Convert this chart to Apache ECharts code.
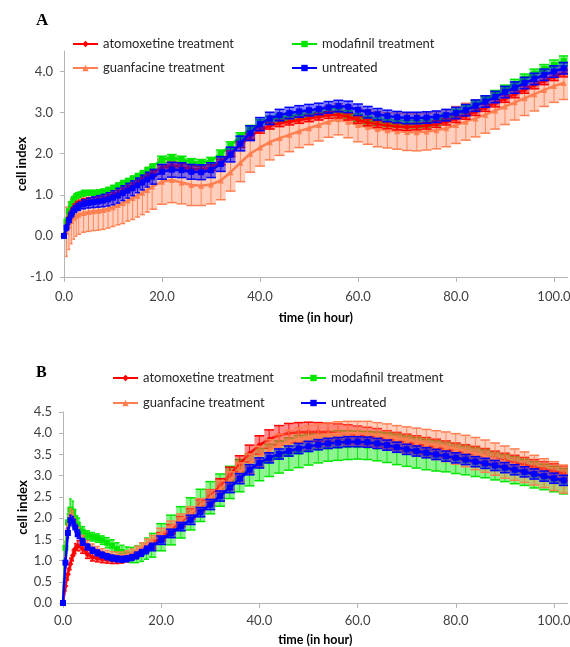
<!DOCTYPE html>
<html><head><meta charset="utf-8">
<script src="https://cdn.jsdelivr.net/npm/echarts@6/dist/echarts.min.js"></script>
<style>html,body{margin:0;padding:0;background:#fff}#c{width:570px;height:647px}</style>
</head><body><div id="c"></div>
<script>
// time points (hours) shared by both panels
const hours = [0,0.5,1,1.5,2,2.5,3,4,5,6,7,8,9,10,11,12,13,14,15,16,17,18,20,22,24,26,28,30,32,34,36,38,40,42,44,46,48,50,52,54,56,58,60,62,64,66,68,70,72,74,76,78,80,82,84,86,88,90,92,94,96,98,100,102];

const seriesNames = ['atomoxetine treatment','modafinil treatment','guanfacine treatment','untreated'];

// ---------- Panel A ----------
const aAto = [0,0.25,0.45,0.6,0.7,0.77,0.8,
  0.84,0.86,0.87,0.88,0.9,0.94,0.99,1.04,1.1,1.16,1.22,1.29,1.36,1.44,1.52,
  1.66,1.72,1.68,1.63,1.62,1.66,1.8,2.0,2.22,2.42,
  2.58,2.68,2.74,2.78,2.82,2.86,2.9,2.94,2.95,2.9,
  2.82,2.76,2.72,2.69,2.66,2.65,2.66,2.68,2.72,2.78,
  2.85,2.93,3.02,3.12,3.23,3.34,3.45,3.56,3.67,3.77,
  3.87,3.96];
const aAtoErr = [0,0.1,0.1,0.09,0.08,0.07,0.07,
  0.07,0.07,0.07,0.07,0.07,0.07,0.07,0.07,0.07,0.07,0.07,0.07,0.07,0.07,0.07,
  0.07,0.07,0.07,0.07,0.07,0.07,0.07,0.07,0.07,0.07,
  0.08,0.08,0.08,0.08,0.08,0.08,0.08,0.08,0.08,0.08,
  0.08,0.08,0.08,0.08,0.08,0.08,0.08,0.08,0.08,0.08,
  0.09,0.09,0.09,0.09,0.09,0.09,0.09,0.09,0.09,0.09,
  0.09,0.09];
const aMod = [0,0.35,0.6,0.78,0.9,0.97,1.0,
  1.04,1.05,1.05,1.06,1.08,1.12,1.17,1.22,1.28,1.33,1.39,1.45,1.52,1.6,1.68,
  1.86,1.9,1.86,1.8,1.78,1.83,2.0,2.2,2.42,2.6,
  2.74,2.82,2.87,2.9,2.93,2.96,2.99,3.02,3.02,2.96,
  2.88,2.82,2.78,2.75,2.73,2.72,2.72,2.74,2.79,2.88,
  2.98,3.08,3.19,3.31,3.44,3.57,3.7,3.83,3.95,4.06,
  4.16,4.26];
const aModErr = [0,0.1,0.12,0.1,0.08,0.08,0.07,
  0.07,0.06,0.06,0.06,0.06,0.06,0.06,0.07,0.07,0.07,0.07,0.07,0.07,0.07,0.07,
  0.08,0.08,0.08,0.08,0.08,0.08,0.09,0.09,0.09,0.09,
  0.09,0.09,0.09,0.09,0.09,0.09,0.09,0.09,0.09,0.09,
  0.09,0.09,0.09,0.09,0.09,0.09,0.09,0.09,0.1,0.1,
  0.1,0.1,0.1,0.1,0.1,0.1,0.11,0.11,0.11,0.11,
  0.12,0.12];
const aGua = [0,0.1,0.25,0.36,0.44,0.49,0.52,
  0.56,0.58,0.6,0.61,0.63,0.66,0.7,0.75,0.8,0.86,0.92,0.98,1.05,1.12,1.2,
  1.32,1.36,1.3,1.24,1.22,1.25,1.35,1.55,1.78,2.0,
  2.15,2.28,2.38,2.46,2.55,2.62,2.7,2.78,2.84,2.78,
  2.7,2.65,2.6,2.57,2.55,2.53,2.52,2.54,2.57,2.62,
  2.7,2.78,2.86,2.95,3.05,3.15,3.25,3.35,3.45,3.55,
  3.65,3.72];
const aGuaErr = [0,0.6,0.58,0.55,0.52,0.5,0.48,
  0.47,0.47,0.47,0.47,0.47,0.47,0.47,0.48,0.5,0.5,0.52,0.52,0.53,0.54,0.55,
  0.55,0.55,0.52,0.5,0.48,0.47,0.47,0.46,0.46,0.45,
  0.45,0.43,0.42,0.41,0.4,0.4,0.39,0.38,0.38,0.39,
  0.41,0.42,0.43,0.43,0.44,0.45,0.45,0.45,0.45,0.45,
  0.45,0.45,0.45,0.45,0.45,0.44,0.43,0.42,0.41,0.4,
  0.4,0.4];
const aUnt = [0,0.2,0.38,0.52,0.62,0.68,0.72,
  0.77,0.8,0.82,0.84,0.86,0.89,0.93,0.98,1.04,1.1,1.16,1.23,1.3,1.37,1.44,
  1.56,1.61,1.6,1.56,1.55,1.6,1.75,1.98,2.25,2.5,
  2.72,2.86,2.94,2.99,3.03,3.06,3.09,3.13,3.16,3.14,
  3.07,3.01,2.96,2.92,2.89,2.87,2.87,2.88,2.9,2.94,
  2.99,3.06,3.17,3.27,3.38,3.5,3.61,3.72,3.82,3.92,
  4.0,4.08];
const aUntErr = [0,0.08,0.1,0.1,0.1,0.1,0.1,
  0.11,0.12,0.13,0.14,0.15,0.16,0.17,0.18,0.18,0.18,0.18,0.18,0.18,0.18,0.18,
  0.18,0.18,0.18,0.18,0.18,0.18,0.18,0.18,0.18,0.18,
  0.16,0.15,0.14,0.14,0.14,0.14,0.14,0.14,0.14,0.14,
  0.14,0.14,0.14,0.14,0.14,0.14,0.14,0.14,0.14,0.14,
  0.14,0.14,0.14,0.14,0.14,0.14,0.14,0.14,0.14,0.14,
  0.14,0.14];

// ---------- Panel B ----------
const bAto = [0,0.4,0.68,0.92,1.12,1.28,1.35,
  1.28,1.15,1.08,1.05,1.03,1.02,1.01,1.01,1.02,1.05,1.09,1.15,1.22,1.3,1.38,
  1.56,1.74,1.92,2.1,2.3,2.52,2.76,3.02,3.28,3.52,
  3.72,3.86,3.95,4.0,4.02,4.03,4.03,4.02,4.0,3.98,
  3.96,3.93,3.9,3.86,3.82,3.78,3.74,3.7,3.66,3.62,
  3.58,3.54,3.5,3.45,3.4,3.35,3.3,3.25,3.2,3.15,
  3.1,3.05];
const bAtoErr = [0,0.12,0.14,0.14,0.13,0.12,0.12,
  0.11,0.1,0.09,0.08,0.08,0.08,0.08,0.08,0.08,0.08,0.08,0.08,0.09,0.09,0.1,
  0.1,0.11,0.12,0.12,0.13,0.15,0.17,0.18,0.19,0.2,
  0.22,0.22,0.23,0.23,0.23,0.23,0.22,0.22,0.22,0.22,
  0.21,0.21,0.21,0.2,0.2,0.2,0.2,0.2,0.2,0.2,
  0.19,0.19,0.19,0.19,0.18,0.18,0.18,0.18,0.18,0.18,
  0.18,0.18];
const bMod = [0,1.3,1.9,2.2,2.15,2.0,1.85,
  1.68,1.6,1.56,1.53,1.48,1.42,1.35,1.27,1.2,1.15,1.13,1.15,1.2,1.28,1.36,
  1.55,1.72,1.9,2.1,2.3,2.48,2.66,2.84,3.0,3.14,
  3.26,3.36,3.44,3.51,3.57,3.62,3.66,3.69,3.71,3.72,
  3.72,3.71,3.69,3.66,3.62,3.58,3.54,3.5,3.47,3.44,
  3.4,3.36,3.32,3.28,3.23,3.18,3.13,3.08,3.02,2.97,
  2.92,2.87];
const bModErr = [0,0.15,0.2,0.25,0.25,0.2,0.15,
  0.12,0.1,0.1,0.1,0.1,0.12,0.14,0.15,0.16,0.17,0.18,0.2,0.22,0.25,0.28,
  0.32,0.35,0.37,0.38,0.38,0.38,0.38,0.38,0.38,0.38,
  0.38,0.38,0.38,0.38,0.38,0.37,0.36,0.35,0.35,0.34,
  0.33,0.33,0.34,0.35,0.36,0.36,0.36,0.36,0.36,0.35,
  0.35,0.34,0.34,0.33,0.33,0.32,0.32,0.31,0.31,0.3,
  0.3,0.3];
const bGua = [0,1.0,1.8,2.1,2.05,1.85,1.68,
  1.5,1.38,1.3,1.25,1.2,1.16,1.13,1.12,1.12,1.14,1.18,1.24,1.32,1.4,1.48,
  1.64,1.8,1.96,2.12,2.3,2.48,2.68,2.88,3.08,3.28,
  3.45,3.6,3.72,3.8,3.86,3.9,3.94,3.97,3.99,4.0,
  4.0,3.99,3.96,3.92,3.88,3.84,3.8,3.76,3.72,3.68,
  3.63,3.58,3.52,3.46,3.39,3.32,3.26,3.2,3.13,3.06,
  2.99,2.92];
const bGuaErr = [0,0.1,0.12,0.12,0.12,0.1,0.1,
  0.09,0.09,0.09,0.08,0.08,0.08,0.08,0.08,0.08,0.09,0.09,0.1,0.1,0.11,0.11,
  0.12,0.13,0.14,0.15,0.16,0.18,0.2,0.21,0.22,0.23,
  0.24,0.25,0.26,0.27,0.27,0.28,0.28,0.28,0.28,0.28,
  0.28,0.29,0.29,0.3,0.3,0.31,0.32,0.33,0.34,0.35,
  0.36,0.37,0.38,0.38,0.38,0.38,0.37,0.36,0.35,0.34,
  0.34,0.33];
const bUnt = [0,0.95,1.65,1.95,1.92,1.78,1.62,
  1.44,1.32,1.24,1.18,1.13,1.09,1.06,1.04,1.03,1.04,1.07,1.12,1.18,1.25,1.32,
  1.48,1.64,1.8,1.96,2.14,2.32,2.52,2.72,2.93,3.14,
  3.3,3.42,3.51,3.58,3.64,3.69,3.73,3.76,3.78,3.8,
  3.8,3.79,3.76,3.72,3.67,3.62,3.58,3.54,3.5,3.46,
  3.42,3.38,3.33,3.29,3.24,3.19,3.14,3.09,3.04,2.99,
  2.94,2.89];
const bUntErr = [0,0.1,0.12,0.12,0.12,0.1,0.1,
  0.08,0.07,0.07,0.07,0.07,0.07,0.07,0.07,0.07,0.07,0.07,0.08,0.08,0.09,0.09,
  0.1,0.1,0.1,0.11,0.11,0.12,0.12,0.12,0.12,0.12,
  0.12,0.12,0.12,0.12,0.12,0.12,0.12,0.12,0.12,0.12,
  0.12,0.12,0.12,0.12,0.12,0.12,0.12,0.12,0.12,0.12,
  0.12,0.12,0.12,0.12,0.12,0.12,0.12,0.12,0.12,0.12,
  0.12,0.12];

// tick labels
const xTicks = [0,20,40,60,80,100];
const yTicksA = [-1,0,1,2,3,4];
const yTicksB = [0,0.5,1,1.5,2,2.5,3,3.5,4,4.5];

const COLORS = ['#ff0000','#00e600','#ff7f50','#0000ff'];
const SYMBOLS = ['diamond','rect','triangle','rect'];
const FILL_ALPHA = [0.45,0.45,0.38,0.5];

function rgba(hex, a){
  const n = parseInt(hex.slice(1),16);
  return 'rgba('+((n>>16)&255)+','+((n>>8)&255)+','+(n&255)+','+a+')';
}

function errSeries(gi, k, mean, err, z){
  const color = COLORS[k];
  return {
    type:'custom', name: seriesNames[k]+' SD', xAxisIndex:gi, yAxisIndex:gi, z, silent:true, clip:true,
    data: hours.map((t,i)=>[t, mean[i], err[i], i]),
    renderItem(params, api){
      const i = api.value(3), t = api.value(0), m = api.value(1), e = api.value(2);
      if (!e) return null;
      const n = hours.length;
      const left = i>0 ? (t-hours[i-1])/2 : (hours[1]-hours[0])/2;
      const right = i<n-1 ? (hours[i+1]-t)/2 : (t-hours[i-1])/2;
      const pL = api.coord([t-left, m+e]);
      const pR = api.coord([t+right, m-e]);
      const pc = api.coord([t, m]);
      const x0 = pL[0], x1 = pR[0], yT = pL[1], yB = pR[1];
      return {type:'group', children:[
        {type:'rect', shape:{x:x0, y:yT, width:x1-x0, height:yB-yT}, style:{fill:rgba(color,FILL_ALPHA[k])}},
        {type:'line', shape:{x1:pc[0], y1:yT, x2:pc[0], y2:yB}, style:{stroke:rgba(color,0.85), lineWidth:1}},
        {type:'line', shape:{x1:x0, y1:yT, x2:x1, y2:yT}, style:{stroke:color, lineWidth:1.5}},
        {type:'line', shape:{x1:x0, y1:yB, x2:x1, y2:yB}, style:{stroke:color, lineWidth:1.5}}
      ]};
    }
  };
}
function lineSeries(gi, k, mean, z){
  return {
    type:'line', name: seriesNames[k], xAxisIndex:gi, yAxisIndex:gi, z, silent:true, clip:true,
    data: hours.map((t,i)=>[t, mean[i]]),
    symbol: SYMBOLS[k], symbolSize:6, showSymbol:true, showAllSymbol:true,
    lineStyle:{color:COLORS[k], width:2.5}, itemStyle:{color:COLORS[k]}
  };
}

const font = 'Lato';
const axisGray = '#b4b4b4';
const labelColor = '#404040';

function xAxis(gi, margin, nameGap){
  return {
    gridIndex:gi, type:'value', min:0, max:102.8, interval:20,
    name:'time (in hour)', nameLocation:'middle', nameGap, nameMoveOverlap:false,
    nameTextStyle:{fontFamily:font, fontWeight:'bold', fontSize:12.5, color:'#000'},
    axisLine:{show:true, onZero:false, lineStyle:{color:axisGray, width:1}},
    axisTick:{show:true, length:5, customValues:xTicks, lineStyle:{color:axisGray}},
    axisLabel:{margin, customValues:xTicks, formatter:v=>v.toFixed(1), fontFamily:font, fontSize:13, color:labelColor},
    splitLine:{show:false}
  };
}
function yAxis(gi, min, max, interval, ticks, nameGap){
  return {
    gridIndex:gi, type:'value', min, max, interval,
    name:'cell index', nameLocation:'middle', nameGap, nameRotate:90, nameMoveOverlap:false,
    nameTextStyle:{fontFamily:font, fontWeight:'bold', fontSize:13, color:'#000'},
    axisLine:{show:true, lineStyle:{color:axisGray, width:1}},
    axisTick:{show:true, length:4, customValues:ticks, lineStyle:{color:axisGray}},
    axisLabel:{margin:11, customValues:ticks, formatter:v=>v.toFixed(1), fontFamily:font, fontSize:13, color:labelColor},
    splitLine:{show:false}
  };
}
function legendItem(name, left, centerY){
  return {
    data:[name], left, top:centerY-8, padding:0, itemWidth:25, itemHeight:8, itemGap:0,
    selectedMode:false,
    textStyle:{fontFamily:font, fontSize:13, color:'#262626', lineHeight:16}
  };
}

const chart = echarts.init(document.getElementById('c'), null, {renderer:'canvas'});
chart.setOption({
  animation:false,
  backgroundColor:'#fff',
  grid:[
    {left:64, top:51, width:503.7, height:226, outerBoundsMode:'none'},
    {left:63, top:412, width:504.7, height:191, outerBoundsMode:'none'}
  ],
  xAxis:[xAxis(0, 13, 34), xAxis(1, 11, 30)],
  yAxis:[yAxis(0, -1, 4.5, 1, yTicksA, 36), yAxis(1, 0, 4.5, 0.5, yTicksB, 34)],
  legend:[
    legendItem(seriesNames[0], 72, 44),
    legendItem(seriesNames[1], 291, 44),
    legendItem(seriesNames[2], 72, 68),
    legendItem(seriesNames[3], 291, 68),
    legendItem(seriesNames[0], 112, 378),
    legendItem(seriesNames[1], 300, 378),
    legendItem(seriesNames[2], 112, 403),
    legendItem(seriesNames[3], 300, 403)
  ],
  graphic:[
    {type:'text', left:36, top:12, style:{text:'A', font:'bold 17px "Liberation Serif"', fill:'#000'}},
    {type:'text', left:36, top:365, style:{text:'B', font:'bold 16px "Liberation Serif"', fill:'#000'}}
  ],
  series:[
    lineSeries(0,0,aAto,6), lineSeries(0,1,aMod,4), lineSeries(0,2,aGua,2), lineSeries(0,3,aUnt,8),
    errSeries(0,2,aGua,aGuaErr,1), errSeries(0,1,aMod,aModErr,3), errSeries(0,0,aAto,aAtoErr,5), errSeries(0,3,aUnt,aUntErr,7),
    lineSeries(1,0,bAto,4), lineSeries(1,1,bMod,2), lineSeries(1,2,bGua,6), lineSeries(1,3,bUnt,8),
    errSeries(1,1,bMod,bModErr,1), errSeries(1,0,bAto,bAtoErr,3), errSeries(1,2,bGua,bGuaErr,5), errSeries(1,3,bUnt,bUntErr,7)
  ]
});
</script>
</body></html>
